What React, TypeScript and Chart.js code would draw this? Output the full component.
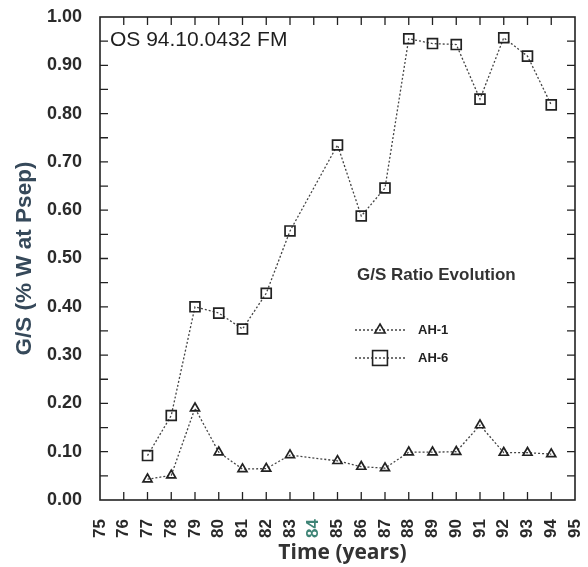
import React, { useEffect, useRef } from "react";
import { Chart, registerables } from "chart.js";

Chart.register(...registerables);

// Sampling years for each well
const years = [77, 78, 79, 80, 81, 82, 83, 85, 86, 87, 88, 89, 90, 91, 92, 93, 94];
// G/S ratio, AH-1
const ah1 = [0.043, 0.051, 0.19, 0.099, 0.064, 0.065, 0.093, 0.081, 0.069, 0.066, 0.099, 0.099, 0.1, 0.155, 0.098, 0.098, 0.095];
// G/S ratio, AH-6
const ah6 = [0.092, 0.175, 0.4, 0.387, 0.354, 0.428, 0.557, 0.735, 0.588, 0.646, 0.955, 0.945, 0.943, 0.83, 0.957, 0.919, 0.818];

const seriesNames = ["AH-1", "AH-6"];
const stampText = "OS 94.10.0432 FM";
const legendTitle = "G/S Ratio Evolution";
const xTitle = "Time (years)";
const yTitle = "G/S (% W at Psep)";
const xMin = 75;
const xMax = 95;
const yMin = 0;
const yMax = 1;

const INK = "#222";
const LINE = "#444";
const FONT = "'Liberation Sans', Arial, sans-serif";

// Frame with inward tick marks on all four sides
const framePlugin = {
  id: "frameTicks",
  afterDraw(chart: any) {
    const { ctx, chartArea: a, scales } = chart;
    const xs = scales.x;
    const ys = scales.y;
    ctx.save();
    ctx.strokeStyle = INK;
    ctx.lineWidth = 1.6;
    ctx.strokeRect(a.left, a.top, a.right - a.left, a.bottom - a.top);
    ctx.lineWidth = 1.3;
    ctx.beginPath();
    for (let v = xMin + 1; v < xMax; v++) {
      const px = xs.getPixelForValue(v);
      ctx.moveTo(px, a.top);
      ctx.lineTo(px, a.top + 8);
      ctx.moveTo(px, a.bottom);
      ctx.lineTo(px, a.bottom - 8);
    }
    for (let i = 1; i < 20; i++) {
      const py = ys.getPixelForValue(yMin + i * 0.05);
      ctx.moveTo(a.left, py);
      ctx.lineTo(a.left + 8, py);
      ctx.moveTo(a.right, py);
      ctx.lineTo(a.right - 8, py);
    }
    ctx.stroke();

    // stamp text in the upper left corner
    ctx.fillStyle = "#1e1e1e";
    ctx.font = `21px ${FONT}`;
    ctx.textBaseline = "middle";
    ctx.textAlign = "left";
    ctx.fillText(stampText, a.left + 10, a.top + 23);

    // x axis title
    ctx.fillStyle = "#333";
    ctx.font = `bold 21px 'Open Sans', sans-serif`;
    ctx.textAlign = "center";
    ctx.fillText(xTitle, (a.left + a.right) / 2 + 5, 553);
    ctx.restore();
  },
};

// Legend block drawn inside the plot area from the dataset styles
const legendPlugin = {
  id: "innerLegend",
  afterDraw(chart: any) {
    const { ctx } = chart;
    ctx.save();
    ctx.fillStyle = "#333";
    ctx.font = `bold 17px ${FONT}`;
    ctx.textAlign = "left";
    ctx.textBaseline = "middle";
    ctx.fillText(legendTitle, 357, 275);

    const rows = [
      { y: 330, r: 6 },
      { y: 358, r: 10.5 },
    ];
    chart.data.datasets.forEach((ds: any, i: number) => {
      const { y, r } = rows[i];
      ctx.strokeStyle = ds.borderColor;
      ctx.lineWidth = ds.borderWidth;
      ctx.setLineDash(ds.borderDash);
      ctx.beginPath();
      ctx.moveTo(355, y);
      ctx.lineTo(405, y);
      ctx.stroke();
      ctx.setLineDash([]);
      ctx.strokeStyle = ds.pointBorderColor;
      ctx.lineWidth = 1.6;
      if (ds.pointStyle === "rect") {
        const h = r * Math.SQRT1_2;
        ctx.strokeRect(380 - h, y - h, 2 * h, 2 * h);
      } else {
        ctx.beginPath();
        ctx.moveTo(380, y - r);
        ctx.lineTo(380 + r * Math.sin((2 * Math.PI) / 3), y - r * Math.cos((2 * Math.PI) / 3));
        ctx.lineTo(380 + r * Math.sin((4 * Math.PI) / 3), y - r * Math.cos((4 * Math.PI) / 3));
        ctx.closePath();
        ctx.stroke();
      }
      ctx.fillStyle = "#222";
      ctx.font = `bold 13px ${FONT}`;
      ctx.fillText(ds.label, 418, y);
    });
    ctx.restore();
  },
};

export default function App() {
  const canvasRef = useRef<HTMLCanvasElement | null>(null);

  useEffect(() => {
    const canvas = canvasRef.current;
    if (!canvas) return;
    const mk = (vals: number[], label: string, style: string, radius: number) => ({
      label,
      data: years.map((x, i) => ({ x, y: vals[i] })),
      borderColor: LINE,
      borderWidth: 1.3,
      borderDash: [2, 2],
      pointStyle: style,
      pointRadius: radius,
      pointBorderColor: INK,
      pointBorderWidth: 1.7,
      pointBackgroundColor: "rgba(0,0,0,0)",
      fill: false,
      tension: 0,
    });
    const chart = new Chart(canvas, {
      type: "line",
      data: {
        datasets: [mk(ah1, seriesNames[0], "triangle", 5.2), mk(ah6, seriesNames[1], "rect", 7)],
      },
      options: {
        responsive: false,
        animation: false,
        devicePixelRatio: 1,
        layout: { padding: { top: 17, right: 13, left: 0, bottom: 0 } },
        plugins: {
          legend: { display: false },
          tooltip: { enabled: false },
        },
        scales: {
          x: {
            type: "linear",
            min: xMin,
            max: xMax,
            afterFit: (s: any) => {
              s.height = 67;
              s.paddingLeft = 0;
              s.paddingRight = 0;
            },
            grid: { display: false, drawTicks: false },
            border: { display: false },
            ticks: {
              stepSize: 1,
              autoSkip: false,
              minRotation: 90,
              maxRotation: 90,
              padding: 19,
              color: (c: any) => (c.tick && c.tick.value === 84 ? "#3f8476" : "#2a2a2a"),
              font: { family: FONT, size: 17, weight: "bold" },
              callback: (v: any) => String(v),
            },
          },
          y: {
            type: "linear",
            min: yMin,
            max: yMax,
            afterFit: (s: any) => {
              s.width = 100;
              s.paddingTop = 0;
              s.paddingBottom = 0;
            },
            grid: { display: false, drawTicks: false },
            border: { display: false },
            ticks: {
              stepSize: 0.1,
              padding: 18,
              color: "#2a2a2a",
              font: { family: FONT, size: 18, weight: "bold" },
              callback: (v: any) => Number(v).toFixed(2),
            },
            title: {
              display: true,
              text: yTitle,
              color: "#36495a",
              font: { family: FONT, size: 22.5, weight: "bold", lineHeight: 1 },
              padding: { top: 14, bottom: 0 },
            },
          },
        },
      } as any,
      plugins: [framePlugin, legendPlugin],
    });
    return () => chart.destroy();
  }, []);

  return (
    <div style={{ position: "fixed", left: 0, top: 0, width: 588, height: 567, background: "#fff" }}>
      <canvas ref={canvasRef} width={588} height={567} style={{ display: "block" }} />
    </div>
  );
}
